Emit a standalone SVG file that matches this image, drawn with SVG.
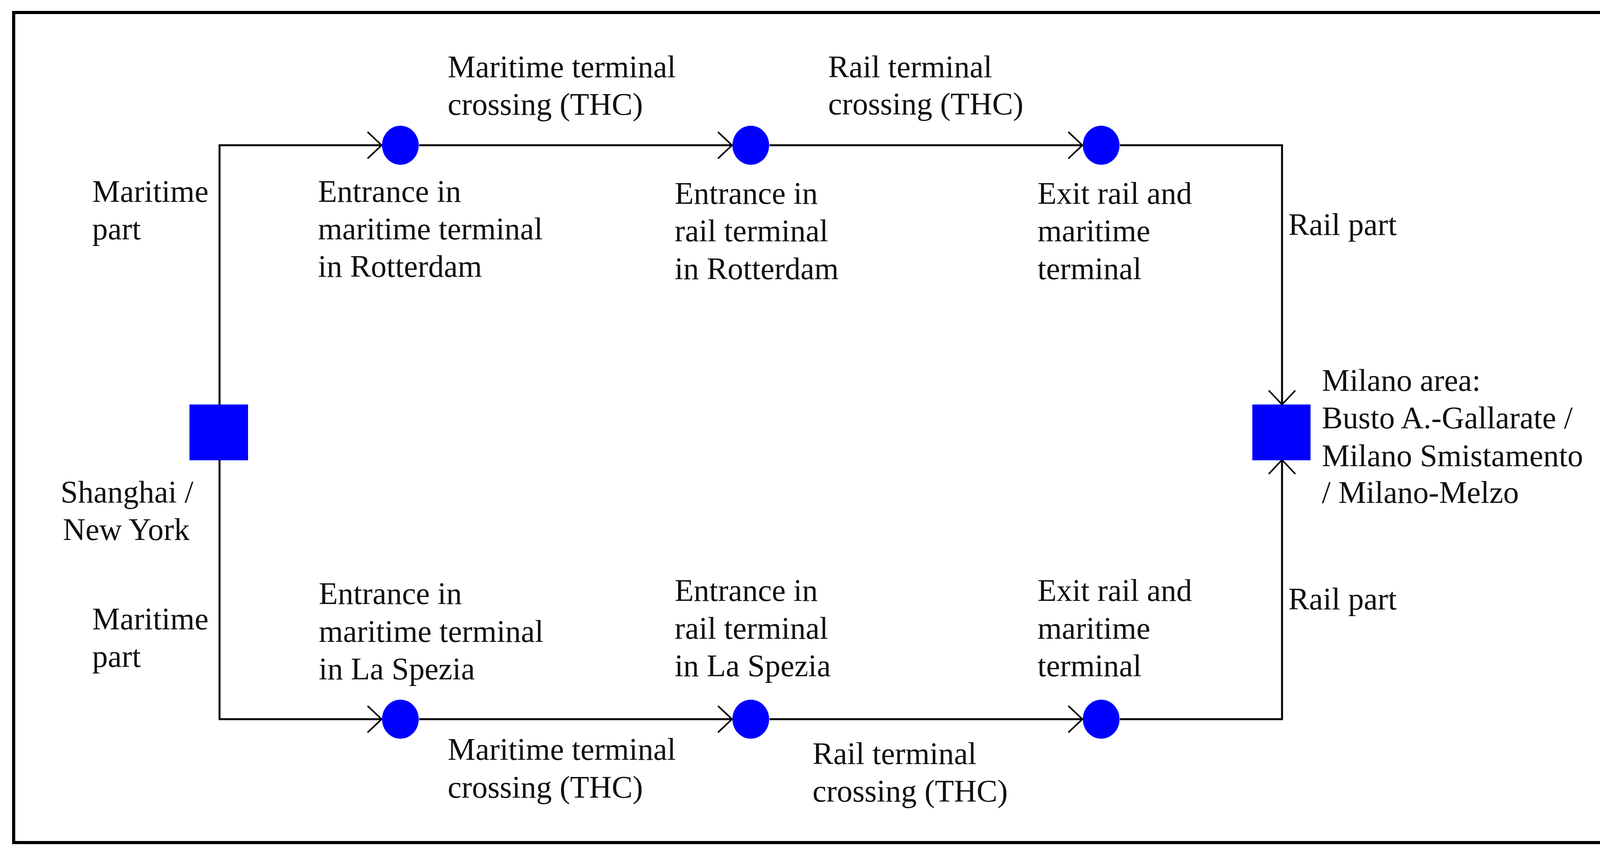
<svg xmlns="http://www.w3.org/2000/svg" width="4198" height="2195" viewBox="0 0 4198 2195">
<style>
text{font-family:"Liberation Serif","Times New Roman",serif;font-size:80px;fill:#111}
.c{fill:#0000ff}
.l{fill:none;stroke:#000;stroke-width:5}
</style>
<defs>
<marker id="a" markerUnits="userSpaceOnUse" markerWidth="100" markerHeight="100" viewBox="-50 -50 60 100" refX="0" refY="0" orient="auto">
<path d="M-36,-34 L0,0 L-36,34" fill="none" stroke="#000" stroke-width="4"/>
</marker>
</defs>
<rect x="35" y="32" width="4136" height="2126" fill="#fff" stroke="#000" stroke-width="8"/>
<g id="connectors">
<path class="l" d="M562,1036 V372 H977" marker-end="url(#a)"/>
<path class="l" d="M1073,372 H1874" marker-end="url(#a)"/>
<path class="l" d="M1970,372 H2771" marker-end="url(#a)"/>
<path class="l" d="M2867,372 H3282 V1036" marker-end="url(#a)"/>
<path class="l" d="M562,1178 V1842 H977" marker-end="url(#a)"/>
<path class="l" d="M1073,1842 H1874" marker-end="url(#a)"/>
<path class="l" d="M1970,1842 H2771" marker-end="url(#a)"/>
<path class="l" d="M2867,1842 H3282 V1178" marker-end="url(#a)"/>
</g>
<g id="origin"><rect class="c" x="485" y="1036" width="150" height="143"/>
<text x="155" y="1287">Shanghai /</text><text x="161" y="1383">New York</text></g>
<g id="dest"><rect class="c" x="3206" y="1036" width="149" height="143"/>
<text x="3384" y="1001">Milano area:</text><text x="3384" y="1097">Busto A.-Gallarate /</text><text x="3384" y="1194">Milano Smistamento</text><text x="3384" y="1288">/ Milano-Melzo</text></g>
<g id="n1"><ellipse class="c" cx="1025" cy="372" rx="47" ry="50"/>
<text x="814" y="517">Entrance in</text><text x="814" y="613">maritime terminal</text><text x="814" y="709">in Rotterdam</text></g>
<g id="n2"><ellipse class="c" cx="1922" cy="372" rx="47" ry="50"/>
<text x="1727" y="522">Entrance in</text><text x="1727" y="618">rail terminal</text><text x="1727" y="715">in Rotterdam</text></g>
<g id="n3"><ellipse class="c" cx="2819" cy="372" rx="47" ry="50"/>
<text x="2656" y="522">Exit rail and</text><text x="2656" y="618">maritime</text><text x="2656" y="715">terminal</text></g>
<g id="n4"><ellipse class="c" cx="1025" cy="1842" rx="47" ry="50"/>
<text x="816" y="1547">Entrance in</text><text x="816" y="1644">maritime terminal</text><text x="816" y="1740">in La Spezia</text></g>
<g id="n5"><ellipse class="c" cx="1922" cy="1842" rx="47" ry="50"/>
<text x="1727" y="1539">Entrance in</text><text x="1727" y="1636">rail terminal</text><text x="1727" y="1732">in La Spezia</text></g>
<g id="n6"><ellipse class="c" cx="2819" cy="1842" rx="47" ry="50"/>
<text x="2656" y="1539">Exit rail and</text><text x="2656" y="1636">maritime</text><text x="2656" y="1732">terminal</text></g>
<g id="labels">
<text x="1146" y="198">Maritime terminal</text><text x="1146" y="294">crossing (THC)</text>
<text x="2120" y="198">Rail terminal</text><text x="2120" y="293">crossing (THC)</text>
<text x="236" y="517">Maritime</text><text x="236" y="613">part</text>
<text x="236" y="1612">Maritime</text><text x="236" y="1708">part</text>
<text x="3298" y="602">Rail part</text>
<text x="3298" y="1561">Rail part</text>
<text x="1146" y="1946">Maritime terminal</text><text x="1146" y="2043">crossing (THC)</text>
<text x="2080" y="1957">Rail terminal</text><text x="2080" y="2053">crossing (THC)</text>
</g>
</svg>
